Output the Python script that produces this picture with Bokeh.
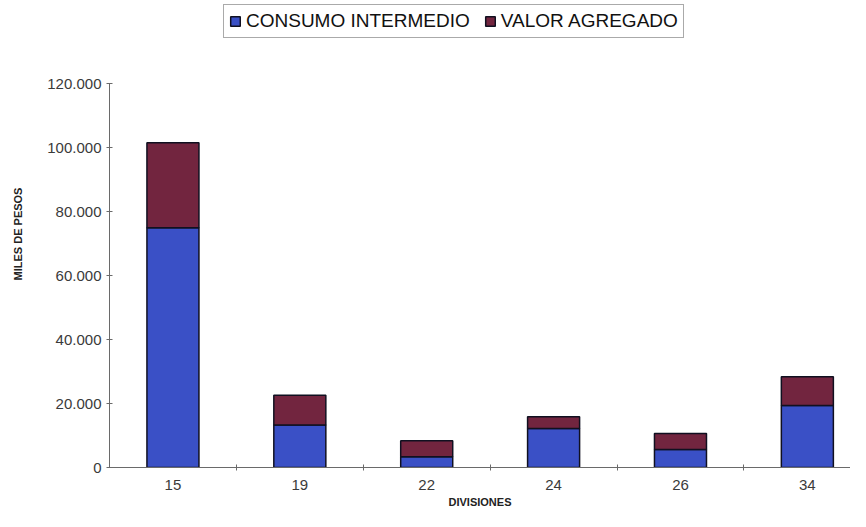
from bokeh.plotting import figure
from bokeh.models import (ColumnDataSource, Range1d, FixedTicker, Legend, LegendItem)
from bokeh.embed import file_html
from bokeh.resources import INLINE

# ---- data ----
divisiones = ["15", "19", "22", "24", "26", "34"]
consumo_intermedio = [75000, 13300, 3400, 12200, 5600, 19400]
valor_agregado = [26600, 9300, 5000, 3700, 5000, 9000]
y_ticks = [0, 20000, 40000, 60000, 80000, 100000, 120000]
y_tick_labels = ["0", "20.000", "40.000", "60.000", "80.000", "100.000", "120.000"]

FONT = "Liberation Sans"
BLUE = "#3a50c6"
MAROON = "#72253f"

x_pos = [i + 0.5 for i in range(len(divisiones))]
source = ColumnDataSource(dict(x=x_pos, ci=consumo_intermedio, va=valor_agregado))

# frame reaches the top of the figure so the legend (inside the frame) is not clipped;
# the value axis itself is bounded to 0..120.000
p = figure(width=850, height=511, output_backend="svg", toolbar_location=None,
           x_range=Range1d(0, 5.84), y_range=Range1d(0, 146100),
           min_border_left=109, min_border_right=0, min_border_top=0,
           min_border_bottom=44)

renderers = p.vbar_stack(["ci", "va"], x="x", width=0.41, source=source,
                         color=[BLUE, MAROON], line_color="#101020", line_width=1.5)

p.xgrid.visible = False
p.ygrid.visible = False
p.outline_line_color = None

yax = p.yaxis[0]
yax.bounds = (y_ticks[0], y_ticks[-1])
yax.ticker = FixedTicker(ticks=y_ticks, minor_ticks=[])
yax.major_label_overrides = {t: l for t, l in zip(y_ticks, y_tick_labels)}
yax.major_tick_in = 3
yax.major_tick_out = 3
yax.minor_tick_line_color = None
yax.axis_line_color = "#6a6a6a"
yax.major_tick_line_color = "#6a6a6a"
yax.major_label_text_font = FONT
yax.major_label_text_font_size = "15px"
yax.major_label_text_color = "#3a3a3a"
yax.major_label_standoff = 5
yax.axis_label = "MILES DE PESOS"
yax.axis_label_text_font = FONT
yax.axis_label_text_font_size = "11px"
yax.axis_label_text_font_style = "bold"
yax.axis_label_text_color = "#222222"
yax.axis_label_standoff = 20

xax = p.xaxis[0]
xax.ticker = FixedTicker(ticks=x_pos, minor_ticks=[1, 2, 3, 4, 5])
xax.major_label_overrides = {x: d for x, d in zip(x_pos, divisiones)}
xax.major_tick_line_color = None
xax.major_tick_in = 0
xax.major_tick_out = 0
xax.minor_tick_in = 3
xax.minor_tick_out = 3
xax.minor_tick_line_color = "#6a6a6a"
xax.axis_line_color = "#6a6a6a"
xax.major_label_text_font = FONT
xax.major_label_text_font_size = "15px"
xax.major_label_text_color = "#3a3a3a"
xax.major_label_standoff = 9
xax.axis_label = "DIVISIONES"
xax.axis_label_text_font = FONT
xax.axis_label_text_font_size = "11px"
xax.axis_label_text_font_style = "bold"
xax.axis_label_text_color = "#222222"
xax.axis_label_standoff = 3

legend = Legend(items=[LegendItem(label="CONSUMO INTERMEDIO", renderers=[renderers[0]]),
                       LegendItem(label="VALOR AGREGADO", renderers=[renderers[1]])],
                orientation="horizontal", location=(114, 429),
                label_text_font=FONT, label_text_font_size="19px", label_text_color="#111111",
                glyph_width=12, glyph_height=12, label_standoff=5, spacing=14,
                padding=5, margin=0, border_line_color="#555555", border_line_width=1,
                background_fill_alpha=1.0)
p.add_layout(legend, "center")

open("out.html", "w").write(file_html(p, INLINE))
